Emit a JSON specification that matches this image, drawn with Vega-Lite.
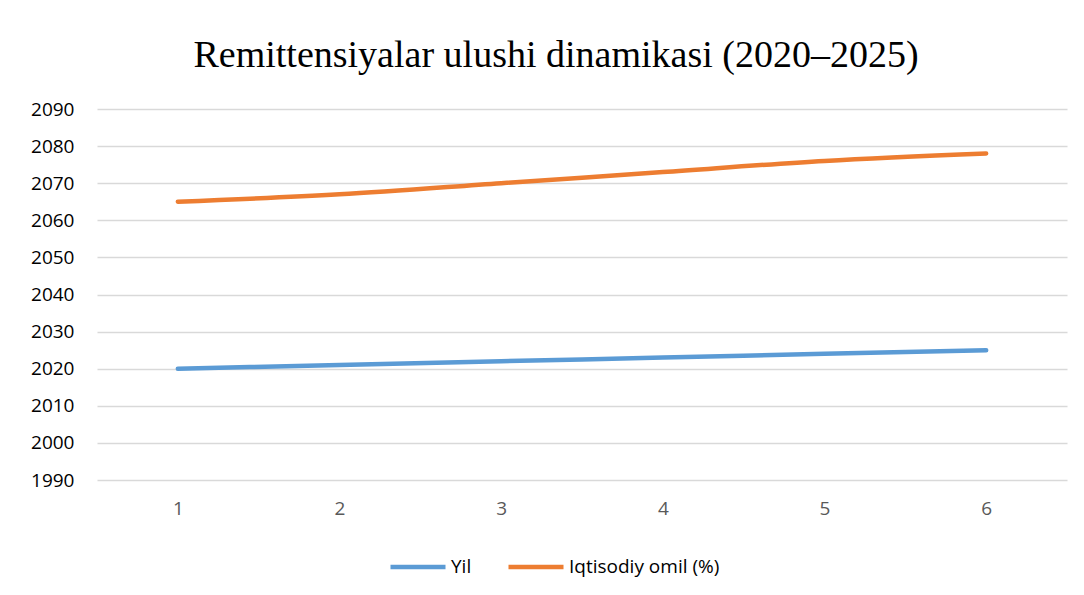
{
  "$schema": "https://vega.github.io/schema/vega-lite/v6.json",
  "autosize": "none",
  "width": 970,
  "height": 371,
  "padding": {"left": 97, "top": 109, "right": 17, "bottom": 115},
  "background": "white",
  "title": {
    "text": "Remittensiyalar ulushi dinamikasi (2020–2025)",
    "font": "Liberation Serif",
    "fontSize": 38,
    "fontWeight": "normal",
    "color": "#000000",
    "anchor": "middle",
    "dx": -26,
    "offset": 25
  },
  "data": {
    "values": [
      {"x": 1, "series": "Yil", "value": 2020},
      {"x": 2, "series": "Yil", "value": 2021},
      {"x": 3, "series": "Yil", "value": 2022},
      {"x": 4, "series": "Yil", "value": 2023},
      {"x": 5, "series": "Yil", "value": 2024},
      {"x": 6, "series": "Yil", "value": 2025},
      {"x": 1, "series": "Iqtisodiy omil (%)", "value": 2065},
      {"x": 2, "series": "Iqtisodiy omil (%)", "value": 2067},
      {"x": 3, "series": "Iqtisodiy omil (%)", "value": 2070},
      {"x": 4, "series": "Iqtisodiy omil (%)", "value": 2073},
      {"x": 5, "series": "Iqtisodiy omil (%)", "value": 2076},
      {"x": 6, "series": "Iqtisodiy omil (%)", "value": 2078}
    ]
  },
  "mark": {"type": "line", "strokeWidth": 4.5, "strokeCap": "round", "interpolate": "monotone"},
  "encoding": {
    "x": {
      "field": "x",
      "type": "ordinal",
      "scale": {"type": "point", "padding": 0.5},
      "axis": {
        "title": null,
        "labelAngle": 0,
        "labelFont": "Open Sans",
        "labelFontSize": 19,
        "labelColor": "#595959",
        "labelPadding": 19,
        "domain": false,
        "ticks": false,
        "grid": false
      }
    },
    "y": {
      "field": "value",
      "type": "quantitative",
      "scale": {"domain": [1990, 2090], "nice": false, "zero": false},
      "axis": {
        "title": null,
        "values": [1990, 2000, 2010, 2020, 2030, 2040, 2050, 2060, 2070, 2080, 2090],
        "format": "d",
        "labelFont": "Open Sans",
        "labelFontSize": 19,
        "labelColor": "#000000",
        "labelPadding": 23,
        "domain": false,
        "ticks": false,
        "grid": true,
        "gridColor": "#d9d9d9",
        "gridWidth": 1.3
      }
    },
    "color": {
      "field": "series",
      "type": "nominal",
      "sort": ["Yil", "Iqtisodiy omil (%)"],
      "scale": {"domain": ["Yil", "Iqtisodiy omil (%)"], "range": ["#5b9bd5", "#ed7d31"]},
      "legend": {
        "title": null,
        "orient": "none",
        "direction": "horizontal",
        "legendX": 291,
        "legendY": 428,
        "symbolType": "stroke",
        "symbolSize": 3025,
        "symbolStrokeWidth": 4.5,
        "labelFont": "Open Sans",
        "labelFontSize": 19,
        "labelColor": "#000000",
        "labelOffset": 3,
        "columnPadding": 27
      }
    }
  },
  "config": {"view": {"stroke": null}}
}
